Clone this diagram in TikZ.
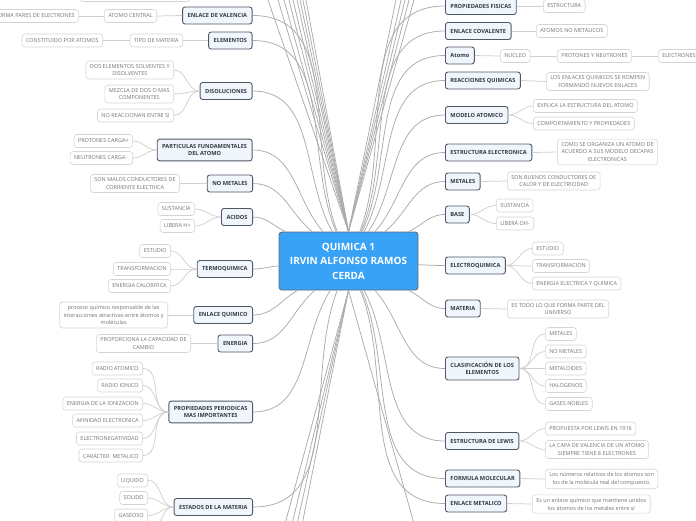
\documentclass[tikz,border=0pt]{standalone}
\usepackage{fontspec}
\setmainfont{Open Sans}
\definecolor{mainfill}{HTML}{F1F6FD}
\definecolor{mainborder}{HTML}{4F5966}
\definecolor{maintext}{HTML}{333A44}
\definecolor{leafborder}{HTML}{D4D4D4}
\definecolor{leaftext}{HTML}{747474}
\definecolor{conncol}{HTML}{ABABAB}
\definecolor{lconncol}{HTML}{D0D0D0}
\definecolor{centerfill}{HTML}{38A2F7}
\definecolor{centerborder}{HTML}{5E6B78}
\begin{document}
\begin{tikzpicture}[x=1pt,y=1pt,
  mainnode/.style={draw=mainborder, line width=0.9pt, fill=mainfill, rounded corners=2.5pt,
    font=\fontsize{5.65}{7.6}\selectfont\bfseries, text=maintext, inner xsep=5pt, inner ysep=5pt,
    minimum height=17pt, align=center},
  leafnode/.style={draw=leafborder, line width=0.6pt, fill=white, rounded corners=3pt,
    font=\fontsize{5.5}{7.9}\selectfont, text=leaftext, inner xsep=4pt, inner ysep=3pt,
    minimum height=13pt, align=center},
  lm/.style={mainnode, anchor=east},
  rm/.style={mainnode, anchor=west},
  ll/.style={leafnode, anchor=east},
  rl/.style={leafnode, anchor=west},
  conn/.style={draw=conncol, line width=0.75pt},
  lconn/.style={draw=lconncol, line width=0.75pt}
]
\useasboundingbox (0,0) rectangle (696,-520);
\clip (0,0) rectangle (696,-520);

% center
\node[draw=centerborder, line width=0.9pt, fill=centerfill, rounded corners=3pt, text=white,
  font=\fontsize{10}{14.5}\selectfont\bfseries, align=center, minimum width=139pt, minimum height=58pt]
  (cn) at (348.5,-261) {QUIMICA 1\\IRVIN ALFONSO RAMOS\\CERDA};

% partial leaf at the top
\draw[leafborder, line width=0.6pt, fill=white, rounded corners=3pt] (80,15) rectangle (190,-1.5);

% left main nodes
\node[lm] (enlval) at (252.5,-15.5) {ENLACE DE VALENCIA};
\node[lm] (elem) at (252.5,-40.5) {ELEMENTOS};
\node[lm] (disol) at (252.5,-91) {DISOLUCIONES};
\node[lm] (part) at (252.5,-150) {PARTICULAS FUNDAMENTALES\\DEL ATOMO};
\node[lm] (nomet) at (253,-183.5) {NO METALES};
\node[lm] (acidos) at (253,-217) {ACIDOS};
\node[lm] (termo) at (253,-269) {TERMOQUIMICA};
\node[lm] (enlq) at (253,-315) {ENLACE QUIMICO};
\node[lm] (energia) at (253,-343.5) {ENERGIA};
\node[lm] (propper) at (253,-412) {PROPIEDADES PERIODICAS\\MAS IMPORTANTES};
\node[lm] (estados) at (253,-507) {ESTADOS DE LA MATERIA};

% left leaves
\node[ll] (atcen) at (157,-16) {ATOMO CENTRAL};
\node[ll] (forma) at (79,-16) {FORMA PARES DE ELECTRONES};
\node[ll] (tipo) at (183,-40.5) {TIPO DE MATERIA};
\node[ll] (const) at (103,-40.5) {CONSTITUIDO POR ATOMOS};
\node[ll] (dos) at (174,-70) {DOS ELEMENTOS SOLVENTES Y\\DISOLVENTES};
\node[ll] (mezcla) at (174,-94) {MEZCLA DE DOS O MAS\\COMPONENTES};
\node[ll] (noreac) at (174,-115.5) {NO REACCIONAN ENTRE SI};
\node[ll] (protc) at (133,-141) {PROTONES CARGA+};
\node[ll] (neutc) at (133,-158) {NEUTRONES CARGA -};
\node[ll] (malos) at (180,-183.5) {SON MALOS CONDUCTORES DE\\CORRIENTE ELECTRICA};
\node[ll] (sustl) at (195,-209) {SUSTANCIA};
\node[ll] (liberah) at (195,-226) {LIBERA H+};
\node[ll] (estl) at (171,-251) {ESTUDIO};
\node[ll] (transl) at (171,-269) {TRANSFORMACION};
\node[ll] (calor) at (171,-286) {ENERGIA CALORIFICA};
\node[ll] (proceso) at (168,-315) {proceso químico responsable de las\\interacciones atractivas entre átomos y\\moléculas};
\node[ll] (propor) at (191,-343.5) {PROPORCIONA LA CAPACIDAD DE\\CAMBIO};
\node[ll] (radat) at (143,-368.5) {RADIO ATOMICO};
\node[ll] (radion) at (143,-385.5) {RADIO IONICO};
\node[ll] (ioniz) at (143,-403.5) {ENERGIA DE LA IONIZACION};
\node[ll] (afin) at (143,-420.5) {AFINIDAD ELECTRONICA};
\node[ll] (electroneg) at (143,-438.5) {ELECTRONEGATIVIDAD};
\node[ll] (caract) at (143,-455.5) {CARÁCTER\ \ METALICO};
\node[ll] (liq) at (148,-480.5) {LIQUIDO};
\node[ll] (sol) at (148,-498) {SOLIDO};
\node[ll] (gas) at (148,-515.5) {GASEOSO};
\coordinate (offleaf) at (148,-533);

% right main nodes
\node[rm] (propfis) at (445,-6) {PROPIEDADES FISICAS};
\node[rm] (enlcov) at (445,-31) {ENLACE COVALENTE};
\node[rm] (atomo) at (445,-55.5) {Atomo};
\node[rm] (reacc) at (445,-80.5) {REACCIONES QUIMICAS};
\node[rm] (modelo) at (445,-115) {MODELO ATOMICO};
\node[rm] (estelec) at (445,-152.5) {ESTRUCTURA ELECTRONICA};
\node[rm] (metales) at (445,-181.5) {METALES};
\node[rm] (base) at (445,-214.5) {BASE};
\node[rm] (electro) at (445,-265.5) {ELECTROQUIMICA};
\node[rm] (materia) at (445,-308.5) {MATERIA};
\node[rm] (clasif) at (445,-368.5) {CLASIFICACIÓN DE LOS\\ELEMENTOS};
\node[rm] (lewis) at (445,-441) {ESTRUCTURA DE LEWIS};
\node[rm] (formula) at (445,-478.5) {FORMULA MOLECULAR};
\node[rm] (enlmet) at (445,-503.5) {ENLACE METALICO};

% right leaves
\node[rl] (estruc) at (543,-6) {ESTRUCTURA};
\node[rl] (atnomet) at (536,-31) {ATOMOS NO METALICOS};
\node[rl] (nucleo) at (500,-56) {NUCLEO};
\node[rl] (pyn) at (557,-56) {PROTONES Y NEUTRONES};
\node[rl] (electrones) at (658,-56) {ELECTRONES};
\node[rl] (rompen) at (546,-81.5) {LOS ENLACES QUIMICOS SE ROMPEN\\FORMANDO NUEVOS ENLACES};
\node[rl] (explica) at (533,-106) {EXPLICA LA ESTRUCTURA DEL ATOMO};
\node[rl] (comport) at (533,-123.5) {COMPORTAMIENTO Y PROPIEDADES};
\node[rl] (organiza) at (557,-152) {COMO SE ORGANIZA UN ATOMO DE\\ACUERDO A SUS MODELO DECAPAS\\ELECTRONICAS};
\node[rl] (buenos) at (507,-181) {SON BUENOS CONDUCTORES DE\\CALOR Y DE ELECTRICIDAD};
\node[rl] (sustr) at (496,-205.5) {SUSTANCIA};
\node[rl] (liberaoh) at (496,-223.5) {LIBERA OH-};
\node[rl] (estr) at (532,-248.5) {ESTUDIO};
\node[rl] (transr) at (532,-266) {TRANSFORMACION};
\node[rl] (eeq) at (532,-283.5) {ENERGIA ELECTRICA Y QUIMICA};
\node[rl] (todo) at (507,-309) {ES TODO LO QUE FORMA PARTE DEL\\UNIVERSO};
\node[rl] (cmet) at (545,-334) {METALES};
\node[rl] (cnomet) at (545,-351.5) {NO METALES};
\node[rl] (cmetal) at (545,-368.5) {METALOIDES};
\node[rl] (chalo) at (545,-386) {HALOGENOS};
\node[rl] (cgases) at (545,-404) {GASES NOBLES};
\node[rl] (propuesta) at (545,-428.5) {PROPUESTA POR LEWIS EN 1916};
\node[rl] (capa) at (545,-449.5) {LA CAPA DE VALENCIA DE UN ATOMO\\SIEMPRE TIENE 8 ELECTRONES};
\node[rl] (numeros) at (545,-479) {Los números relativos de los átomos son\\los de la molécula real del compuesto.};
\node[rl] (esun) at (532,-504) {Es un enlace químico que mantiene unidos\\los átomos de los metales entre sí};

% off-frame coordinates
\coordinate (t1) at (264.5,10);
\coordinate (t2) at (275,10);
\coordinate (t3) at (281.2,10);
\coordinate (t4) at (286.4,10);
\coordinate (t5) at (290.6,10);
\coordinate (t6) at (294.8,10);
\coordinate (t7) at (297.9,10);
\coordinate (t8) at (301,10);
\coordinate (t9) at (304.2,10);
\coordinate (r1) at (398,10);
\coordinate (r2) at (403.3,10);
\coordinate (r3) at (407.4,10);
\coordinate (r4) at (411.6,10);
\coordinate (r5) at (416.8,10);
\coordinate (b1) at (283.3,-530);
\coordinate (b2) at (290.6,-530);
\coordinate (b3) at (295.8,-530);
\coordinate (b4) at (301,-530);
\coordinate (b5) at (415.8,-530);

% off-frame connectors
\foreach \c in {t1,t2,t3,t4,t5,t6,t7,t8,t9,r1,r2,r3,r4,r5} \draw[conn] (cn.north) -- (\c);
\foreach \c in {b1,b2,b3,b4,b5} \draw[conn] (cn.south) -- (\c);

% main connectors, left
\draw[conn] (enlval.east) to[out=0,in=111] (cn);
\draw[conn] (elem.east) to[out=0,in=113] (cn);
\draw[conn] (disol.east) to[out=0,in=119] (cn);
\draw[conn] (part.east) to[out=0,in=131] (cn);
\draw[conn] (nomet.east) to[out=0,in=141] (cn);
\draw[conn] (acidos.east) to[out=0,in=155] (cn);
\draw[conn] (termo.east) to[out=0,in=184] (cn);
\draw[conn] (enlq.east) to[out=0,in=210] (cn);
\draw[conn] (energia.east) to[out=0,in=221] (cn);
\draw[conn] (propper.east) to[out=0,in=238] (cn);
\draw[conn] (estados.east) to[out=0,in=249] (cn);

% main connectors, right
\draw[conn] (propfis.west) to[out=180,in=69] (cn);
\draw[conn] (enlcov.west) to[out=180,in=67] (cn);
\draw[conn] (atomo.west) to[out=180,in=65] (cn);
\draw[conn] (reacc.west) to[out=180,in=62] (cn);
\draw[conn] (modelo.west) to[out=180,in=56] (cn);
\draw[conn] (estelec.west) to[out=180,in=48] (cn);
\draw[conn] (metales.west) to[out=180,in=39] (cn);
\draw[conn] (base.west) to[out=180,in=26] (cn);
\draw[conn] (electro.west) to[out=180,in=-3] (cn);
\draw[conn] (materia.west) to[out=180,in=-26] (cn);
\draw[conn] (clasif.west) to[out=180,in=-48] (cn);
\draw[conn] (lewis.west) to[out=180,in=-62] (cn);
\draw[conn] (formula.west) to[out=180,in=-66] (cn);
\draw[conn] (enlmet.west) to[out=180,in=-68] (cn);

% leaf connectors, left
\draw[lconn] (enlval.west) -- (atcen.east);
\draw[lconn] (atcen.west) -- (forma.east);
\draw[lconn] (elem.west) -- (tipo.east);
\draw[lconn] (tipo.west) -- (const.east);
\foreach \l in {dos,mezcla,noreac} \draw[lconn] (disol.west) to[out=180,in=0] (\l.east);
\foreach \l in {protc,neutc} \draw[lconn] (part.west) to[out=180,in=0] (\l.east);
\draw[lconn] (nomet.west) -- (malos.east);
\foreach \l in {sustl,liberah} \draw[lconn] (acidos.west) to[out=180,in=0] (\l.east);
\foreach \l in {estl,transl,calor} \draw[lconn] (termo.west) to[out=180,in=0] (\l.east);
\draw[lconn] (enlq.west) -- (proceso.east);
\draw[lconn] (energia.west) -- (propor.east);
\foreach \l in {radat,radion,ioniz,afin,electroneg,caract} \draw[lconn] (propper.west) to[out=180,in=0] (\l.east);
\foreach \l in {liq,sol,gas} \draw[lconn] (estados.west) to[out=180,in=0] (\l.east);
\draw[lconn] (estados.west) to[out=180,in=0] (offleaf);

% leaf connectors, right
\draw[lconn] (propfis.east) -- (estruc.west);
\draw[lconn] (enlcov.east) -- (atnomet.west);
\draw[lconn] (atomo.east) -- (nucleo.west);
\draw[lconn] (nucleo.east) -- (pyn.west);
\draw[lconn] (pyn.east) -- (electrones.west);
\draw[lconn] (reacc.east) -- (rompen.west);
\foreach \l in {explica,comport} \draw[lconn] (modelo.east) to[out=0,in=180] (\l.west);
\draw[lconn] (estelec.east) -- (organiza.west);
\draw[lconn] (metales.east) -- (buenos.west);
\foreach \l in {sustr,liberaoh} \draw[lconn] (base.east) to[out=0,in=180] (\l.west);
\foreach \l in {estr,transr,eeq} \draw[lconn] (electro.east) to[out=0,in=180] (\l.west);
\draw[lconn] (materia.east) -- (todo.west);
\foreach \l in {cmet,cnomet,cmetal,chalo,cgases} \draw[lconn] (clasif.east) to[out=0,in=180] (\l.west);
\foreach \l in {propuesta,capa} \draw[lconn] (lewis.east) to[out=0,in=180] (\l.west);
\draw[lconn] (formula.east) -- (numeros.west);
\draw[lconn] (enlmet.east) -- (esun.west);
\end{tikzpicture}
\end{document}
